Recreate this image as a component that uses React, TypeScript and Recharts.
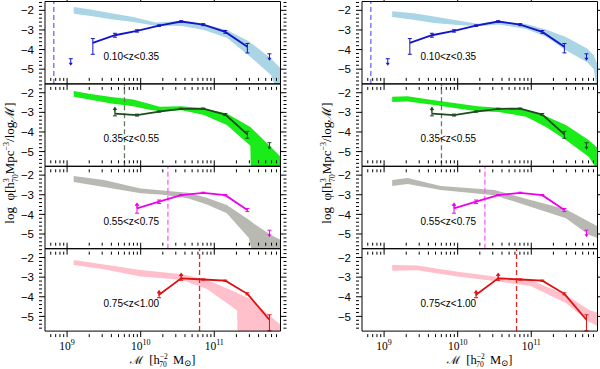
import React from 'react';
import { ComposedChart, Line, Area, Scatter, XAxis, YAxis, ErrorBar, ReferenceLine } from 'recharts';

// ---------- axes ----------
const X_DOMAIN: [number, number] = [8.7, 11.9];
const Y_DOMAIN: [number, number] = [-5.75, -1.55];
const X_MAJOR = [9, 10, 11];
const X_EXP_LABELS = ['9', '10', '11'];
const X_MINOR_MULT = [2, 3, 4, 5, 6, 7, 8, 9];
const Y_MAJOR = [-2, -3, -4, -5];
const Y_LABELS = ['−2', '−3', '−4', '−5'];
const Y_MINOR = [-5.6, -5.4, -5.2, -4.8, -4.6, -4.4, -4.2, -3.8, -3.6, -3.4, -3.2, -2.8, -2.6, -2.4, -2.2, -1.8, -1.6];
const Z_LABELS = ['0.10<z<0.35', '0.35<z<0.55', '0.55<z<0.75', '0.75<z<1.00'];

// ---------- observed mass functions (log M, log phi) ----------
const MASS_1 = [9.35, 9.65, 9.95, 10.25, 10.55, 10.85, 11.15, 11.45];
const PHI_1 = [-3.66, -3.27, -3.05, -2.78, -2.57, -2.73, -3.10, -3.86];
const ERR_1 = [[0.58, 0.22], [0.1, 0.1], [0.06, 0.06], [0.04, 0.04], [0.04, 0.04], [0.05, 0.05], [0.07, 0.07], [0.31, 0.17]];
const LIM_MASS_1 = [9.05, 11.75];
const LIM_PHI_1 = [-4.62, -4.37];
const LOW_MASS_1: number[] = [];
const LOW_PHI_1: number[] = [];

const MASS_2 = [9.65, 9.95, 10.25, 10.55, 10.85, 11.15, 11.45];
const PHI_2 = [-3.06, -3.14, -2.96, -2.82, -2.81, -3.11, -4.12];
const ERR_2 = [[0.12, 0.2], [0.05, 0.05], [0.03, 0.03], [0.03, 0.03], [0.03, 0.03], [0.05, 0.05], [0.2, 0.15]];
const LIM_MASS_2 = [11.75];
const LIM_PHI_2 = [-4.7];
const LOW_MASS_2 = [9.65];
const LOW_PHI_2 = [-2.86];

const MASS_3 = [9.95, 10.25, 10.55, 10.85, 11.15, 11.45];
const PHI_3 = [-3.69, -3.35, -3.02, -2.90, -3.02, -3.78];
const ERR_3 = [[0.25, 0.15], [0.1, 0.08], [0.03, 0.03], [0.03, 0.03], [0.03, 0.03], [0.08, 0.08]];
const LIM_MASS_3 = [11.75];
const LIM_PHI_3 = [-4.96];
const LOW_MASS_3 = [9.95];
const LOW_PHI_3 = [-3.54];

const MASS_4 = [10.25, 10.55, 10.85, 11.15, 11.45, 11.75];
const PHI_4 = [-3.90, -3.06, -3.12, -3.18, -3.85, -5.17];
const ERR_4 = [[0.15, 0.1], [0.1, 0.15], [0.03, 0.03], [0.03, 0.03], [0.05, 0.05], [0.56, 0.25]];
const LIM_MASS_4: number[] = [];
const LIM_PHI_4: number[] = [];
const LOW_MASS_4 = [10.25, 10.55];
const LOW_PHI_4 = [-3.8, -2.91];

// completeness limits
const MLIM = [8.82, 9.78, 10.37, 10.80];

// ---------- model bands [log M, low, high] ----------
type B = [number, number, number][];
const BAND_L1: B = [[9.09, -2.17, -1.83], [9.3, -2.28, -1.95], [9.6, -2.45, -2.15], [9.9, -2.59, -2.34], [10.2, -2.78, -2.62], [10.4, -2.78, -2.58], [10.56, -2.8, -2.52], [10.86, -3.0, -2.7], [11.17, -3.4, -3.0], [11.47, -4.3, -3.58], [11.77, -5.3, -4.45], [11.9, -6.5, -4.95]];
const BAND_L2: B = [[9.09, -2.21, -1.91], [9.3, -2.35, -2.05], [9.6, -2.55, -2.22], [9.9, -2.69, -2.34], [10.1, -2.85, -2.55], [10.26, -2.94, -2.72], [10.56, -2.89, -2.69], [10.86, -3.14, -2.8], [11.17, -3.65, -3.06], [11.49, -4.7, -3.75], [11.5, -6.5, -3.78], [11.77, -6.5, -4.76], [11.9, -6.5, -5.26]];
const BAND_L3: B = [[9.09, -2.35, -2.05], [9.5, -2.6, -2.25], [10.0, -2.93, -2.68], [10.3, -3.0, -2.78], [10.64, -3.18, -2.9], [10.9, -3.5, -3.15], [11.17, -3.94, -3.52], [11.47, -5.2, -4.28], [11.55, -6.5, -4.5], [11.77, -6.5, -5.05], [11.9, -6.5, -5.3]];
const BAND_L4: B = [[9.09, -2.38, -2.13], [9.5, -2.6, -2.35], [10.0, -2.97, -2.63], [10.3, -3.05, -2.75], [10.56, -3.14, -2.85], [10.9, -3.6, -3.15], [11.17, -4.32, -3.56], [11.31, -4.7, -3.8], [11.32, -6.5, -3.82], [11.47, -6.5, -4.07], [11.77, -6.5, -5.0], [11.9, -6.5, -5.43]];

const BAND_R1: B = [[9.11, -2.34, -2.05], [9.4, -2.48, -2.15], [9.68, -2.64, -2.32], [10.0, -2.75, -2.52], [10.27, -2.81, -2.68], [10.56, -2.72, -2.54], [10.93, -2.95, -2.7], [11.2, -3.35, -2.98], [11.47, -4.03, -3.36], [11.76, -4.65, -3.94], [11.85, -5.0, -4.3], [11.91, -6.5, -4.85]];
const BAND_R2: B = [[9.11, -2.47, -2.21], [9.32, -2.45, -2.18], [9.68, -2.63, -2.38], [10.0, -2.8, -2.55], [10.27, -2.94, -2.69], [10.56, -2.98, -2.76], [10.93, -3.23, -2.89], [11.2, -3.75, -3.2], [11.47, -4.41, -3.65], [11.78, -5.26, -4.41], [11.91, -6.0, -4.84]];
const BAND_R3: B = [[9.11, -2.55, -2.25], [9.32, -2.45, -2.15], [9.77, -2.76, -2.56], [10.5, -3.02, -2.76], [10.99, -3.61, -3.27], [11.47, -4.2, -3.74], [11.78, -5.04, -4.36], [11.91, -5.22, -4.62]];
const BAND_R4: B = [[9.11, -2.67, -2.38], [9.45, -2.65, -2.4], [10.0, -2.97, -2.72], [10.58, -3.24, -3.0], [10.99, -3.45, -3.14], [11.47, -4.32, -3.9], [11.78, -5.26, -4.66], [11.91, -5.51, -4.83]];

// ---------- colours ----------
const LINE_COLORS = ['#1414c8', '#1e4a1e', '#ee00ee', '#dd1010'];
const DASH_COLORS = ['#6a6af0', '#5f7f5f', '#ff5cff', '#e02a2a'];
const BAND_COLORS = ['#a9d5e5', '#19ec19', '#b9b9b4', '#ffc0cb'];

// ---------- derived tables ----------
const X_TICKS: number[] = [];
for (let n = 8; n <= 11; n++) {
  X_TICKS.push(n);
  for (const k of X_MINOR_MULT) X_TICKS.push(n + Math.log10(k));
}
const X_TICKS_IN = X_TICKS.filter((v) => v > X_DOMAIN[0] + 0.005 && v < X_DOMAIN[1] - 0.002);
const Y_TICKS = [...Y_MAJOR, ...Y_MINOR].sort((a, b) => a - b);

const mk = (m: number[], p: number[], e?: number[][]) => m.map((v, i) => ({ m: v, phi: p[i], err: e ? e[i] : undefined }));
const mkBand = (b: B) => b.map(([m, lo, hi]) => ({ m, r: [lo, hi] }));

const PANELS = [
  { pts: mk(MASS_1, PHI_1, ERR_1), lim: mk(LIM_MASS_1, LIM_PHI_1), low: mk(LOW_MASS_1, LOW_PHI_1) },
  { pts: mk(MASS_2, PHI_2, ERR_2), lim: mk(LIM_MASS_2, LIM_PHI_2), low: mk(LOW_MASS_2, LOW_PHI_2) },
  { pts: mk(MASS_3, PHI_3, ERR_3), lim: mk(LIM_MASS_3, LIM_PHI_3), low: mk(LOW_MASS_3, LOW_PHI_3) },
  { pts: mk(MASS_4, PHI_4, ERR_4), lim: mk(LIM_MASS_4, LIM_PHI_4), low: mk(LOW_MASS_4, LOW_PHI_4) },
];
const BANDS = [
  [BAND_L1, BAND_L2, BAND_L3, BAND_L4].map(mkBand),
  [BAND_R1, BAND_R2, BAND_R3, BAND_R4].map(mkBand),
];

// ---------- layout ----------
const CW = 300;
const CH = 369;
const PLOT_L = 45;
const PLOT_R = 19.5;
const TOP0 = 1.5;
const PH = 82.4;
const COL_X = [0, 317];

const isInt = (v: number) => Math.abs(v - Math.round(v)) < 1e-6;

const xTick = (side: 'top' | 'bottom', labels: boolean) => (props: any) => {
  const { x, y, payload } = props;
  const v = payload.value as number;
  const major = isInt(v);
  const len = major ? 6 : 3;
  const dir = side === 'bottom' ? -1 : 1;
  const idx = X_MAJOR.indexOf(Math.round(v));
  return (
    <g>
      <line x1={x} y1={y} x2={x} y2={y + dir * len} stroke="#000" strokeWidth={1} />
      {labels && major && idx >= 0 && (
        <text x={x} y={y + 13} textAnchor="middle" fontFamily="'Liberation Serif', serif" fontSize={11.5} fill="#000">
          10<tspan dy={-5} fontSize={8}>{X_EXP_LABELS[idx]}</tspan>
        </text>
      )}
    </g>
  );
};

const yTick = (side: 'left' | 'right', labels: boolean) => (props: any) => {
  const { x, y, payload } = props;
  const v = payload.value as number;
  const major = isInt(v);
  const len = major ? 6 : 3;
  const dir = side === 'left' ? 1 : -1;
  const idx = Y_MAJOR.indexOf(Math.round(v));
  return (
    <g>
      <line x1={x} y1={y} x2={x + dir * len} y2={y} stroke="#000" strokeWidth={1} />
      {labels && major && idx >= 0 && (
        <text x={x - 5} y={y} dy="0.36em" textAnchor="end" fontFamily="'Liberation Sans', sans-serif" fontSize={11.5} fill="#000">
          {Y_LABELS[idx]}
        </text>
      )}
    </g>
  );
};

const downArrow = (color: string) => (props: any) => {
  const { cx, cy } = props;
  return (
    <g>
      <line x1={cx - 2} y1={cy - 3} x2={cx + 2} y2={cy - 3} stroke={color} strokeWidth={1} />
      <line x1={cx} y1={cy - 3} x2={cx} y2={cy + 2} stroke={color} strokeWidth={1} />
      <polygon points={`${cx - 2},${cy + 1} ${cx + 2},${cy + 1} ${cx},${cy + 4}`} fill={color} />
    </g>
  );
};

const upArrow = (color: string) => (props: any) => {
  const { cx, cy } = props;
  return (
    <g>
      <line x1={cx} y1={cy + 3} x2={cx} y2={cy - 1} stroke={color} strokeWidth={1} />
      <polygon points={`${cx - 2},${cy} ${cx + 2},${cy} ${cx},${cy - 3}`} fill={color} />
    </g>
  );
};

function Panel({ col, k }: { col: number; k: number }) {
  const top = TOP0 + PH * k;
  const bottom = CH - top - PH;
  const last = k === 3;
  const p = PANELS[k];
  const color = LINE_COLORS[k];
  return (
    <div style={{ position: 'absolute', left: 0, top: 0 }}>
      <ComposedChart width={CW} height={CH} margin={{ top: top - 1, right: PLOT_R - 1, bottom: bottom - 1, left: PLOT_L - 1 }}>
        <XAxis dataKey="m" type="number" domain={X_DOMAIN} allowDataOverflow ticks={X_TICKS_IN} interval={0}
          tickLine={false} tickMargin={0} height={1} axisLine={{ stroke: '#000', strokeWidth: 1 }} tick={xTick('bottom', last)} />
        <XAxis xAxisId="t" orientation="top" dataKey="m" type="number" domain={X_DOMAIN} allowDataOverflow ticks={X_TICKS_IN} interval={0}
          tickLine={false} tickMargin={0} height={1} axisLine={{ stroke: '#000', strokeWidth: 1 }} tick={xTick('top', false)} />
        <YAxis type="number" domain={Y_DOMAIN} allowDataOverflow ticks={Y_TICKS} interval={0}
          tickLine={false} tickMargin={0} width={1} axisLine={{ stroke: '#000', strokeWidth: 1 }} tick={yTick('left', true)} />
        <YAxis yAxisId="r" orientation="right" type="number" domain={Y_DOMAIN} allowDataOverflow ticks={Y_TICKS} interval={0}
          tickLine={false} tickMargin={0} width={1} axisLine={{ stroke: '#000', strokeWidth: 1 }} tick={yTick('right', false)} />
        <Area data={BANDS[col][k]} dataKey="r" type="linear" stroke="none" fill={BAND_COLORS[k]} fillOpacity={1} isAnimationActive={false} />
        <ReferenceLine x={MLIM[k]} stroke={DASH_COLORS[k]} strokeWidth={1.3} strokeDasharray="5 3" />
        <Line data={p.pts} dataKey="phi" type="linear" stroke={color} strokeWidth={1.8} dot={false} isAnimationActive={false}>
          <ErrorBar dataKey="err" direction="y" width={2} stroke={color} strokeWidth={1} />
        </Line>
        {p.lim.length > 0 && (
          <Scatter data={p.lim} dataKey="phi" shape={downArrow(color)} isAnimationActive={false} />
        )}
        {p.low.length > 0 && (
          <Scatter data={p.low} dataKey="phi" shape={upArrow(color)} isAnimationActive={false} />
        )}
      </ComposedChart>
    </div>
  );
}

function Labels() {
  const serif = "'Liberation Serif', 'DejaVu Serif', serif";
  return (
    <svg width={CW} height={CH} style={{ position: 'absolute', left: 0, top: 0, pointerEvents: 'none' }}>
      {Z_LABELS.map((t, k) => (
        <text key={t} x={103.5} y={TOP0 + PH * k + 58.5} fontFamily="'Liberation Sans', sans-serif" fontSize={10} fill="#000">{t}</text>
      ))}
      <text transform={`translate(14,163) rotate(-90)`} textAnchor="middle" fontFamily={serif} fontSize={13} fill="#000">
        {'log\u00A0\u00A0φ[h'}
        <tspan dy={-5} fontSize={8}>3</tspan>
        <tspan dx={-4} dy={9} fontSize={8}>70</tspan>
        <tspan dy={-4}>Mpc</tspan>
        <tspan dy={-5} fontSize={8}>−3</tspan>
        <tspan dy={5}>/logℳ]</tspan>
      </text>
      <text x={162.75} y={363.5} textAnchor="middle" fontFamily={serif} fontSize={12.5} fill="#000">
        <tspan fontSize={11.5}>ℳ</tspan>
        {'\u00A0\u00A0[h'}
        <tspan dy={-4.5} fontSize={7.5}>−2</tspan>
        <tspan dx={-8.5} dy={8} fontSize={7.5}>70</tspan>
        <tspan dy={-3.5}>{'\u00A0\u00A0M'}</tspan>
        <tspan dy={2} fontSize={8.5}>⊙</tspan>
        <tspan dy={-2}>]</tspan>
      </text>
    </svg>
  );
}

function Column({ col }: { col: number }) {
  return (
    <div style={{ position: 'absolute', left: COL_X[col], top: 0, width: CW, height: CH }}>
      {[0, 1, 2, 3].map((k) => <Panel key={k} col={col} k={k} />)}
      <Labels />
    </div>
  );
}

export default function App() {
  return (
    <div style={{ position: 'absolute', left: 0, top: 0, width: 600, height: 369, background: '#fff', overflow: 'hidden' }}>
      <Column col={0} />
      <Column col={1} />
    </div>
  );
}
